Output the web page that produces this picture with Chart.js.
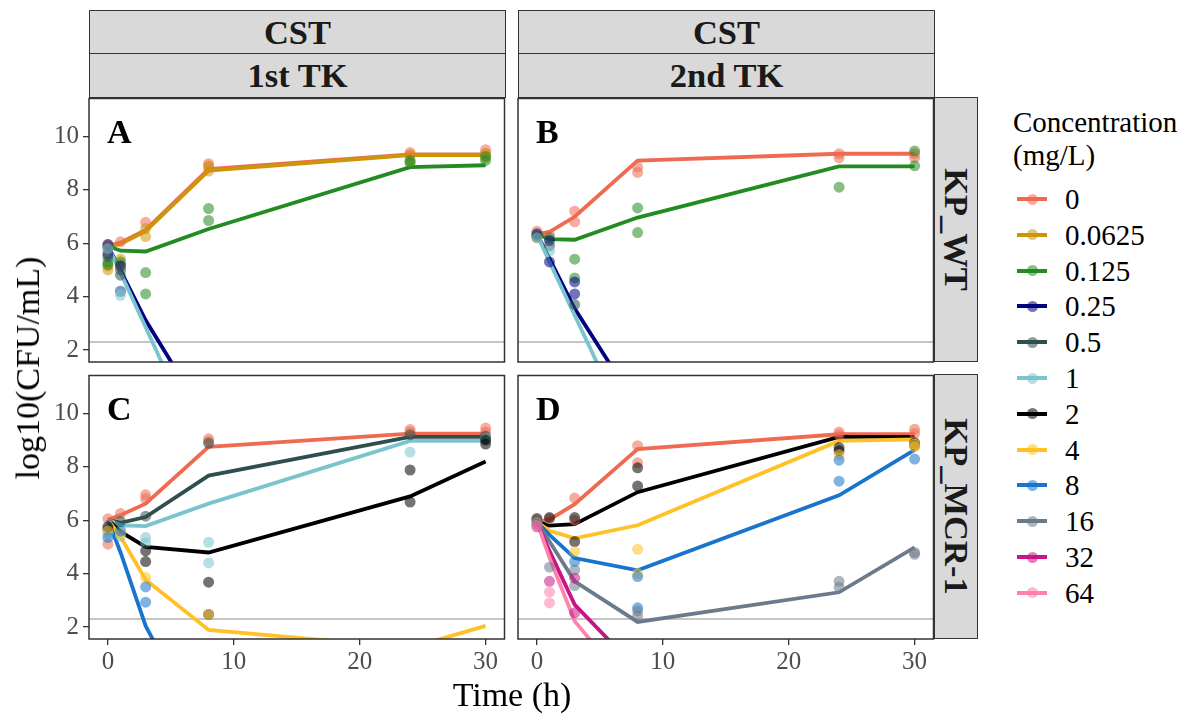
<!DOCTYPE html>
<html lang="en">
<head>
<meta charset="UTF-8">
<title>CST time-kill</title>
<script src="https://cdn.jsdelivr.net/npm/chart.js"></script>
<style>
  body { margin: 0; background: #fff; font-family: 'Liberation Serif', 'Times New Roman', serif; }
  #wrap { position: relative; width: 1192px; height: 716px; overflow: hidden; }
  canvas { position: absolute; }
  .strip { position: absolute; box-sizing: border-box; background: #d9d9d9; border: 1.5px solid #333;
           font-weight: bold; font-size: 34.5px; color: #1a1a1a; display: flex; align-items: center; justify-content: center; }
  .strip span { white-space: nowrap; }
  .vert span { transform: rotate(90deg); }
  .lab { position: absolute; font-size: 34px; color: #000; white-space: nowrap; }
  #legend { position: absolute; left: 1013px; top: 106px; font-size: 29px; color: #000; }
  .item { position: absolute; left: 0; height: 36px; width: 170px; }
  .item .ln { position: absolute; left: 4px; width: 30px; height: 4px; top: 16px; }
  .item .pt { position: absolute; left: 13.5px; top: 12.5px; width: 11px; height: 11px; border-radius: 50%; }
  .item .tx { position: absolute; left: 52px; top: 0; line-height: 36px; }
</style>
</head>
<body>
<div id="wrap">
  <div class="strip" style="left:89px;top:10px;width:417px;height:44px"><span>CST</span></div>
  <div class="strip" style="left:89px;top:52.5px;width:417px;height:45px"><span>1st TK</span></div>
  <div class="strip" style="left:518px;top:10px;width:417px;height:44px"><span>CST</span></div>
  <div class="strip" style="left:518px;top:52.5px;width:417px;height:45px"><span>2nd TK</span></div>
  <div class="strip vert" style="left:934px;top:97px;width:44px;height:265px"><span>KP_WT</span></div>
  <div class="strip vert" style="left:934px;top:374px;width:44px;height:265px"><span>KP_MCR-1</span></div>

  <canvas id="pA" width="481" height="309" style="left:29px;top:93px"></canvas>
  <canvas id="pB" width="481" height="309" style="left:458px;top:93px"></canvas>
  <canvas id="pC" width="481" height="309" style="left:29px;top:370px"></canvas>
  <canvas id="pD" width="481" height="309" style="left:458px;top:370px"></canvas>

  <div class="lab" style="left:28px;top:368px;transform:translate(-50%,-50%) rotate(-90deg)">log10(CFU/mL)</div>
  <div class="lab" style="left:512px;top:695px;transform:translate(-50%,-50%)">Time (h)</div>
  <div id="legend">
    <div style="position:absolute;left:0;top:0;white-space:nowrap;line-height:33px">Concentration<br>(mg/L)</div>
  </div>
</div>

<script>
// ---- data ----
const times = [0, 1, 3, 8, 24, 30];
const xTicks = [0, 10, 20, 30];
const yTicks = [2, 4, 6, 8, 10];
const lod = 2.3;
const concs = ['0', '0.0625', '0.125', '0.25', '0.5', '1', '2', '4', '8', '16', '32', '64'];
const colors = ['#EE6A50', '#CD950C', '#228B22', '#000080', '#2F4F4F', '#7AC5CD',
                '#000000', '#FFC125', '#1874CD', '#6C7B8B', '#C71585', '#FF82AB'];

// model lines (log10 CFU/mL at each time), per panel
const fitA = {
  '0':      [5.90, 6.02, 6.50, 8.78, 9.33, 9.33],
  '0.0625': [5.88, 5.97, 6.45, 8.72, 9.30, 9.30],
  '0.125':  [5.90, 5.72, 5.69, 6.53, 8.85, 8.92],
  '0.25':   [5.90, 4.98, 3.11, -0.73, null, null],
  '1':      [5.90, 4.90, 2.85, -2.30, null, null]
};
const fitB = {
  '0':     [6.34, 6.42, 6.99, 9.09, 9.35, 9.35],
  '0.125': [6.34, 6.15, 6.13, 6.96, 8.88, 8.88],
  '0.25':  [6.34, 5.42, 3.55, -0.15, null, null],
  '1':     [6.34, 5.30, 3.30, -1.70, null, null]
};
const fitC = {
  '0':   [6.02, 6.19, 6.62, 8.75, 9.24, 9.24],
  '0.5': [6.02, 5.90, 6.12, 7.67, 9.12, 9.12],
  '1':   [6.02, 5.81, 5.78, 6.62, 8.97, 8.97],
  '2':   [6.02, 5.57, 5.00, 4.79, 6.89, 8.20],
  '4':   [6.02, 5.38, 3.77, 1.89, 1.22, 2.04],
  '8':   [6.02, 4.80, 2.04, -2.40, null, null]
};
const fitD = {
  '0':  [5.94, 6.02, 6.60, 8.66, 9.22, 9.22],
  '2':  [5.94, 5.80, 5.85, 7.05, 9.12, 9.12],
  '4':  [5.94, 5.60, 5.32, 5.81, 8.97, 9.03],
  '8':  [5.94, 5.45, 4.58, 4.12, 6.93, 8.63],
  '16': [5.94, 5.20, 3.71, 2.19, 3.30, 4.98],
  '32': [5.94, 4.85, 2.84, 0.39, null, null],
  '64': [5.94, 4.60, 2.22, -0.63, null, null]
};

// observed replicates [time, log10 CFU/mL], per panel
const obsA = {
  '0':      [[0, 5.95], [0, 5.8], [1, 6.05], [3, 6.78], [8, 8.98], [8, 8.85], [24, 9.4], [24, 9.3], [30, 9.5], [30, 9.35]],
  '0.0625': [[0, 5.15], [0, 5.0], [1, 5.4], [1, 5.2], [3, 6.55], [3, 6.25], [8, 8.9], [8, 8.7], [24, 9.3], [24, 9.05], [30, 9.35], [30, 9.2]],
  '0.125':  [[0, 5.3], [0, 5.2], [1, 5.3], [3, 4.9], [3, 4.1], [8, 7.3], [8, 6.85], [24, 9.1], [24, 9.0], [30, 9.25], [30, 9.1]],
  '0.25':   [[0, 5.95], [0, 5.6], [1, 5.15], [1, 4.2]],
  '0.5':    [[0, 5.85], [0, 5.5], [1, 4.8], [1, 5.0]],
  '1':      [[0, 5.8], [1, 4.05], [1, 4.2]]
};
const obsB = {
  '0':     [[0, 6.45], [0, 6.2], [1, 6.3], [3, 7.2], [3, 6.8], [8, 8.85], [8, 8.65], [24, 9.35], [24, 9.2], [30, 9.2], [30, 9.35]],
  '0.125': [[0, 6.25], [1, 6.2], [3, 5.4], [3, 4.7], [8, 7.32], [8, 6.4], [24, 8.1], [30, 9.45], [30, 8.9]],
  '0.25':  [[0, 6.35], [1, 6.1], [1, 5.3], [3, 4.55], [3, 4.1]],
  '0.5':   [[0, 6.3], [1, 5.9], [3, 3.7]],
  '1':     [[0, 6.2], [1, 5.7]]
};
const obsC = {
  '0':   [[0, 6.05], [0, 5.1], [1, 6.25], [3, 6.95], [3, 6.8], [8, 9.05], [8, 8.95], [24, 9.4], [24, 9.3], [30, 9.45], [30, 9.3]],
  '0.5': [[0, 5.65], [1, 5.95], [3, 6.15], [8, 8.88], [24, 9.2], [30, 9.15], [30, 9.05]],
  '1':   [[0, 5.5], [1, 5.4], [3, 5.35], [3, 5.15], [8, 5.17], [8, 4.4], [24, 8.55], [30, 9.05]],
  '2':   [[0, 5.75], [3, 4.85], [3, 4.45], [8, 3.68], [8, 2.47], [24, 7.88], [24, 6.68], [30, 8.85], [30, 9.0]],
  '4':   [[0, 5.6], [1, 5.5], [3, 3.85], [8, 2.47]],
  '8':   [[0, 5.35], [1, 5.6], [3, 3.5], [3, 2.93]]
};
const obsD = {
  '0':  [[0, 6.0], [1, 6.05], [3, 6.83], [3, 6.0], [8, 8.79], [8, 8.15], [24, 9.3], [24, 9.2], [30, 9.41], [30, 9.25]],
  '2':  [[0, 6.06], [1, 6.1], [3, 6.1], [3, 5.2], [8, 7.96], [8, 7.28], [24, 8.72], [24, 8.6], [30, 8.8], [30, 8.9]],
  '4':  [[0, 5.9], [3, 4.82], [8, 4.91], [8, 4.0], [24, 8.45], [30, 8.85], [30, 8.75]],
  '8':  [[0, 5.85], [3, 4.45], [8, 3.89], [8, 2.72], [24, 8.25], [24, 7.46], [30, 8.29]],
  '16': [[0, 5.95], [1, 4.24], [3, 4.14], [3, 3.55], [8, 2.6], [8, 2.41], [24, 3.71], [24, 3.49], [30, 4.79], [30, 4.72]],
  '32': [[0, 5.75], [1, 3.71], [3, 3.83], [3, 2.53]],
  '64': [[0, 5.8], [1, 3.31], [1, 2.9]]
};

// ---- drawing ----
const serif = "'Liberation Serif', 'Times New Roman', serif";

function alpha(hex, a) {
  const n = parseInt(hex.slice(1), 16);
  return `rgba(${n >> 16},${(n >> 8) & 255},${n & 255},${a})`;
}

// border around the panel and the panel letter
const panelDeco = {
  id: 'panelDeco',
  beforeDatasetsDraw(chart, args, opts) {
    const ctx = chart.ctx, x = chart.scales.x, y = chart.scales.y;
    ctx.save();
    ctx.font = 'bold 34px ' + serif;
    ctx.fillStyle = '#000';
    ctx.textAlign = 'left';
    ctx.textBaseline = 'middle';
    ctx.fillText(opts.letter, x.getPixelForValue(0) - 1, y.getPixelForValue(10) - 2);
    ctx.restore();
  },
  afterDraw(chart) {
    const ctx = chart.ctx, a = chart.chartArea;
    ctx.save();
    ctx.strokeStyle = '#333';
    ctx.lineWidth = 1.5;
    ctx.strokeRect(a.left, a.top, a.right - a.left, a.bottom - a.top);
    ctx.restore();
  }
};

function makePanel(id, fit, obs, letter, showX, showY) {
  const datasets = [{
    type: 'line',
    data: [{ x: -1.5, y: lod }, { x: 31.5, y: lod }],
    borderColor: '#b3b3b3', borderWidth: 1.5, pointRadius: 0, order: 200
  }];
  concs.forEach((c, i) => {
    if (fit[c]) {
      datasets.push({
        type: 'line',
        data: times.map((t, k) => ({ x: t, y: fit[c][k] })),
        borderColor: colors[i], borderWidth: 3.8, pointRadius: 0,
        tension: 0, spanGaps: false, clip: 0, order: 100 - i
      });
    }
  });
  concs.forEach((c, i) => {
    if (obs[c]) {
      datasets.push({
        type: 'scatter',
        data: obs[c].map(p => ({ x: p[0], y: p[1] })),
        backgroundColor: alpha(colors[i], 0.55), borderWidth: 0,
        pointRadius: 5.5, clip: 0, order: 50 - i
      });
    }
  });

  new Chart(document.getElementById(id), {
    data: { datasets },
    options: {
      responsive: false, animation: false,
      layout: { padding: { left: 0, top: 4, right: 4, bottom: 0 } },
      plugins: { legend: { display: false }, tooltip: { enabled: false }, panelDeco: { letter } },
      scales: {
        x: {
          type: 'linear', min: -1.5, max: 31.5,
          afterBuildTicks: s => { s.ticks = xTicks.map(v => ({ value: v })); },
          afterFit: s => { s.height = 40; s.paddingLeft = 0; s.paddingRight = 0; },
          grid: { display: showX, drawOnChartArea: false, drawTicks: true, tickLength: 6, color: '#333', lineWidth: 1.3 },
          border: { display: false },
          ticks: { display: showX, color: '#4d4d4d', font: { family: serif, size: 25 }, padding: 2, maxRotation: 0 }
        },
        y: {
          type: 'linear', min: 1.55, max: 11.42,
          afterBuildTicks: s => { s.ticks = yTicks.map(v => ({ value: v })); },
          afterFit: s => { s.width = 60; s.paddingTop = 0; s.paddingBottom = 0; },
          grid: { display: showY, drawOnChartArea: false, drawTicks: true, tickLength: 6, color: '#333', lineWidth: 1.3 },
          border: { display: false },
          ticks: { display: showY, color: '#4d4d4d', font: { family: serif, size: 25 }, padding: 4 }
        }
      }
    },
    plugins: [panelDeco]
  });
}

makePanel('pA', fitA, obsA, 'A', false, true);
makePanel('pB', fitB, obsB, 'B', false, false);
makePanel('pC', fitC, obsC, 'C', true, true);
makePanel('pD', fitD, obsD, 'D', true, false);

// legend built from the same concentration / colour lists
const legend = document.getElementById('legend');
concs.forEach((c, i) => {
  const it = document.createElement('div');
  it.className = 'item';
  it.style.top = (75 + i * 35.8) + 'px';
  it.innerHTML = `<div class="ln" style="background:${colors[i]}"></div>` +
    `<div class="pt" style="background:${alpha(colors[i], 0.55)}"></div>` +
    `<div class="tx">${c}</div>`;
  legend.appendChild(it);
});
</script>
</body>
</html>
